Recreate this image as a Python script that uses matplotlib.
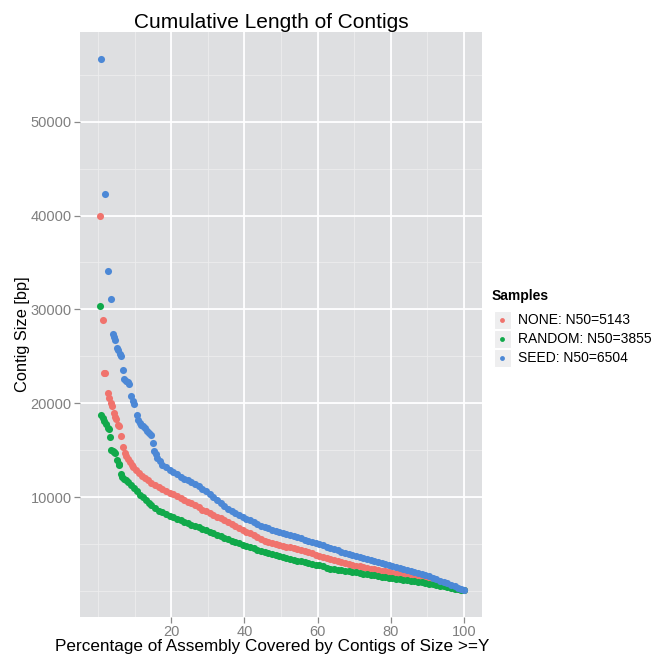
import matplotlib
matplotlib.use("Agg")
import matplotlib.pyplot as plt
from matplotlib.patches import Rectangle
from matplotlib.lines import Line2D

plt.rcParams['font.family'] = ['Liberation Sans', 'DejaVu Sans']

# --- data ---
samples = ["NONE: N50=5143", "RANDOM: N50=3855", "SEED: N50=6504"]
colors = ["#F0736D", "#10A94A", "#4C88D6"]

none_x = [0.55, 1.3, 1.6, 1.9, 2.6, 3.0, 3.4, 3.7, 4.2, 4.5, 4.9, 5.4, 5.8, 6.3, 6.8, 7.2, 7.6, 8.1, 8.6, 9.1,
          9.6, 10.4, 11.2, 12.0, 12.8, 13.6, 14.5, 15.5, 16.5, 17.5, 18.5, 19.5, 20.5, 21.5, 22.5, 23.5, 24.5,
          25.5, 26.5, 27.5, 28.5, 29.5, 30.5, 31.5, 32.5, 33.5, 34.5, 35.5, 36.5, 37.5, 38.5, 39.5, 40.5, 41.5,
          42.5, 43.5, 44.5, 45.5, 46.5, 47.5, 48.5, 49.5, 50.5, 51.5, 52.5, 53.5, 54.5, 55.5, 56.5, 57.5, 58.5,
          59.5, 60.5, 61.5, 62.5, 63.5, 64.5, 65.5, 66.5, 67.5, 68.5, 69.5, 70.5, 71.5, 72.5, 73.5, 74.5, 75.5,
          76.5, 77.5, 78.5, 79.5, 80.5, 81.5, 82.5, 83.5, 84.5, 85.5, 86.5, 87.5, 88.5, 89.5, 90.5, 91.5, 92.5,
          93.5, 94.5, 95.5, 96.5, 97.5, 98.5, 99.3, 100]
none_y = [40000, 28900, 23200, 23200, 21100, 20600, 20000, 19700, 19000, 18600, 18300, 17700, 17600, 16500,
          15400, 14700, 14400, 14100, 13800, 13500, 13200, 12900, 12600, 12300, 12050, 11800, 11550, 11300,
          11100, 10900, 10700, 10500, 10350, 10200, 9950, 9750, 9550, 9350, 9150, 8950, 8700, 8500, 8300, 8100,
          7950, 7800, 7600, 7350, 7150, 6950, 6700, 6500, 6350, 6200, 6000, 5800, 5600, 5400, 5250, 5120, 5000,
          4900, 4820, 4750, 4680, 4600, 4520, 4420, 4300, 4180, 4050, 3900, 3780, 3660, 3550, 3440, 3340, 3240,
          3140, 3020, 2910, 2820, 2730, 2650, 2570, 2490, 2410, 2340, 2260, 2190, 2120, 2050, 1990, 1930, 1870,
          1800, 1720, 1640, 1550, 1460, 1360, 1250, 1120, 980, 880, 780, 680, 580, 470, 360, 250, 160, 100]

random_x = [0.4, 0.8, 1.2, 1.7, 2.1, 2.6, 3.0, 3.3, 3.6, 4.0, 4.4, 4.7, 5.2, 5.6, 5.8, 6.1, 6.6, 7.1, 7.6, 8.2,
            9.0, 9.8, 10.6, 11.4, 12.2, 13.0, 13.8, 14.5, 15.5, 16.5, 17.5, 18.5, 19.5, 20.5, 21.5, 22.5, 23.5,
            24.5, 25.5, 26.5, 27.5, 28.5, 29.5, 30.5, 31.5, 32.5, 33.5, 34.5, 35.5, 36.5, 37.5, 38.5, 39.5, 40.5,
            41.5, 42.5, 43.5, 44.5, 45.5, 46.5, 47.5, 48.5, 49.5, 50.5, 51.5, 52.5, 53.5, 54.5, 55.5, 56.5, 57.5,
            58.5, 59.5, 60.5, 61.5, 62.5, 63.5, 64.5, 65.5, 66.5, 67.5, 68.5, 69.5, 70.5, 71.5, 72.5, 73.5, 74.5,
            75.5, 76.5, 77.5, 78.5, 79.5, 80.5, 81.5, 82.5, 83.5, 84.5, 85.5, 86.5, 87.5, 88.5, 89.5, 90.5, 91.5,
            92.5, 93.5, 94.5, 95.5, 96.5, 97.5, 98.5, 99.3, 100]
random_y = [30400, 18800, 18500, 18100, 17800, 17400, 17300, 16400, 15000, 14900, 14800, 14700, 14000, 13600,
            13400, 12500, 12200, 12000, 11800, 11600, 11300, 11000, 10700, 10300, 10000, 9700, 9400, 9150, 8900,
            8600, 8400, 8200, 8050, 7900, 7750, 7580, 7400, 7250, 7100, 6950, 6800, 6650, 6500, 6350, 6170, 6000,
            5850, 5700, 5550, 5400, 5250, 5100, 4950, 4850, 4720, 4600, 4450, 4300, 4170, 4060, 3950, 3850, 3750,
            3650, 3550, 3450, 3350, 3270, 3180, 3090, 3000, 2920, 2840, 2760, 2660, 2520, 2420, 2370, 2310, 2250,
            2190, 2130, 2070, 2010, 1950, 1880, 1810, 1750, 1690, 1630, 1570, 1510, 1460, 1400, 1350, 1300, 1250,
            1190, 1130, 1070, 1010, 950, 880, 810, 740, 670, 600, 530, 450, 380, 300, 220, 160, 100]

seed_x = [0.8, 1.9, 2.6, 3.4, 4.0, 4.3, 4.7, 5.1, 5.5, 6.0, 6.3, 6.7, 7.0, 7.5, 8.0, 8.5, 9.0, 9.4, 9.9, 10.6,
          11.0, 11.3, 11.8, 12.3, 12.8, 13.3, 13.8, 14.3, 15.0, 15.3, 15.7, 16.2, 16.8, 17.5, 18.5, 19.5, 20.5,
          21.5, 22.5, 23.5, 24.6, 25.5, 26.5, 27.5, 28.5, 29.5, 30.5, 31.5, 32.5, 33.5, 34.5, 35.5, 36.5, 37.5,
          38.5, 39.5, 40.5, 41.5, 42.5, 43.5, 44.5, 45.5, 46.5, 47.5, 48.5, 49.5, 50.5, 51.5, 52.5, 53.5, 54.5,
          55.5, 56.5, 57.5, 58.5, 59.5, 60.5, 61.5, 62.5, 63.5, 64.5, 65.5, 66.5, 67.5, 68.5, 69.5, 70.5, 71.5,
          72.5, 73.5, 74.5, 75.5, 76.5, 77.5, 78.5, 79.5, 80.5, 81.5, 82.5, 83.5, 84.5, 85.5, 86.5, 87.5, 88.5,
          89.5, 90.5, 91.5, 92.5, 93.5, 94.5, 95.5, 96.5, 97.5, 98.5, 99.3, 100]
seed_y = [56700, 42300, 34100, 31100, 27400, 27100, 26800, 25900, 25700, 25300, 25000, 23600, 22600, 22400,
          22300, 22100, 20800, 20300, 19900, 18800, 18200, 17900, 17700, 17600, 17400, 17100, 16900, 16600,
          15800, 14900, 14600, 14200, 13900, 13500, 13200, 12900, 12700, 12500, 12200, 12000, 11800, 11600,
          11400, 11200, 10900, 10700, 10400, 10000, 9700, 9350, 9100, 8800, 8600, 8300, 8100, 7900, 7750, 7550,
          7400, 7200, 7000, 6850, 6700, 6550, 6400, 6300, 6200, 6100, 6000, 5900, 5780, 5650, 5500, 5350, 5200,
          5100, 5000, 4880, 4750, 4600, 4480, 4350, 4220, 4100, 3980, 3880, 3760, 3650, 3540, 3430, 3320, 3200,
          3100, 3000, 2900, 2800, 2720, 2630, 2530, 2420, 2300, 2180, 2070, 1960, 1850, 1730, 1600, 1450, 1300,
          1150, 1000, 850, 700, 540, 380, 240, 100]

x_ticks = [20, 40, 60, 80, 100]
y_ticks = [10000, 20000, 30000, 40000, 50000]

series = [(none_x, none_y), (random_x, random_y), (seed_x, seed_y)]

fig = plt.figure(figsize=(6.66, 6.57), dpi=100, facecolor="white")
ax = fig.add_axes([80 / 666, 1 - 617 / 657, 402 / 666, 585 / 657])
ax.set_facecolor("#DEDFE1")
for s in ax.spines.values():
    s.set_visible(False)

# grid: minor lines first, then major
for v in range(0, 111, 10):
    ax.axvline(v, color="#EDEDEE", lw=0.6, zorder=0)
for v in range(0, 60001, 5000):
    ax.axhline(v, color="#EDEDEE", lw=0.6, zorder=0)
for v in x_ticks:
    ax.axvline(v, color="white", lw=1.3, zorder=0)
for v in y_ticks:
    ax.axhline(v, color="white", lw=1.3, zorder=0)

for (xs, ys), c in zip(series, colors):
    ax.scatter(xs, ys, s=26, color=c, linewidths=0, zorder=3)

ax.set_xlim(-5, 105)
ax.set_ylim(-2730, 59530)
ax.set_xticks(x_ticks)
ax.set_yticks(y_ticks)
ax.tick_params(colors="#8A8A8A", labelcolor="#7F7F7F", labelsize=10.5, length=4, width=0.9, pad=2)

fig.text(271 / 666, 1 - 22 / 657, "Cumulative Length of Contigs", ha="center", va="center", fontsize=15)
fig.text(272 / 666, 1 - 647 / 657, "Percentage of Assembly Covered by Contigs of Size >=Y",
         ha="center", va="center", fontsize=12.3)
fig.text(23 / 666, 1 - 334 / 657, "Contig Size [bp]", ha="center", va="center", rotation=90, fontsize=11.8)

# legend in ggplot style
fig.text(492 / 666, 1 - 296 / 657, "Samples", ha="left", va="center", fontsize=10, fontweight="bold")
for i, (lab, c) in enumerate(zip(samples, colors)):
    yc = 320 + i * 19
    fig.add_artist(Rectangle((494 / 666, 1 - (yc + 9) / 657), 17 / 666, 18 / 657,
                             transform=fig.transFigure, facecolor="#EEEEEF", edgecolor="white", lw=0.8))
    fig.add_artist(Line2D([502.5 / 666], [1 - yc / 657], marker="o", markersize=3.5, color=c,
                          markeredgewidth=0, transform=fig.transFigure))
    fig.text(518 / 666, 1 - yc / 657, lab, ha="left", va="center", fontsize=10)

plt.savefig("out.png", dpi=100)
